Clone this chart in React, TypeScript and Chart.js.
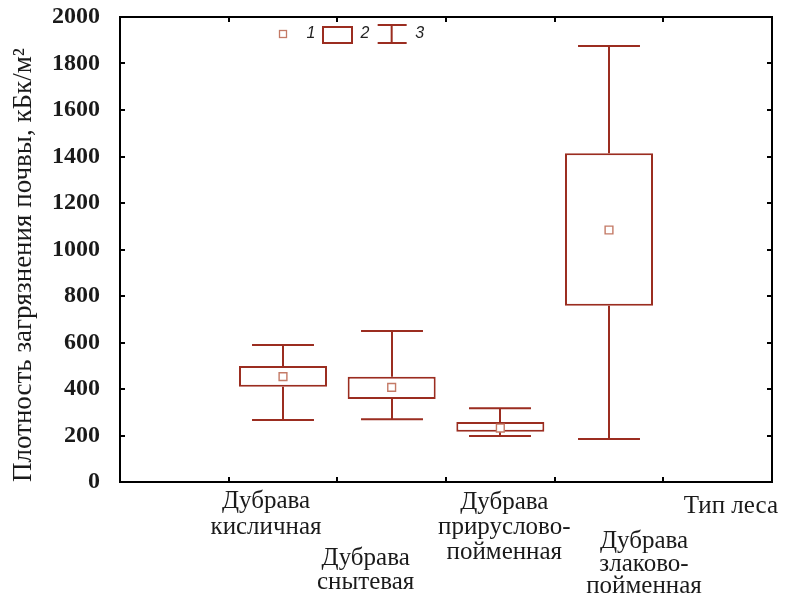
import React, { useEffect, useRef } from "react";
import { Chart, registerables } from "chart.js";

Chart.register(...registerables);

// ---------- data ----------
const categories: string[][] = [
  ["Дубрава", "кисличная"],
  ["Дубрава", "снытевая"],
  ["Дубрава", "прируслово-", "пойменная"],
  ["Дубрава", "злаково-", "пойменная"],
];
const categoryPositions = [2, 3, 4, 5];
const whiskerLow = [267, 270, 198, 185];
const boxLow = [410, 357, 216, 758];
const centerValue = [453, 407, 232, 1084];
const boxHigh = [499, 453, 258, 1414];
const whiskerHigh = [589, 650, 317, 1875];
const legendLabels = ["1", "2", "3"];
const xAxisTitle = "Тип леса";
const yAxisTitle = "Плотность загрязнения почвы, кБк/м²";
const yMin = 0;
const yMax = 2000;
const yStep = 200;
const xMin = 0.5;
const xMax = 6.5;

// ---------- styles ----------
const BOX_COLOR = "#9b2d20";
const MEAN_COLOR = "#c47a66";
const TEXT_COLOR = "#1a1a1a";
const SERIF = '"Liberation Serif", "Times New Roman", serif';
const SANS = '"Liberation Sans", Arial, sans-serif';

// per-category label placement (pixel offsets from the tick, baselines)
const labelLayout = [
  { dx: -17, baselines: [508, 534] },
  { dx: -26, baselines: [565, 589] },
  { dx: 4, baselines: [509, 534, 559] },
  { dx: 35, baselines: [548, 571, 593] },
];

const extrasPlugin = {
  id: "boxExtras",
  beforeDatasetsDraw(chart: any) {
    const { ctx } = chart;
    const xs = chart.scales.x;
    const ys = chart.scales.y;
    const unit = xs.getPixelForValue(1) - xs.getPixelForValue(0);
    const half = unit * 0.285;
    ctx.save();
    ctx.strokeStyle = BOX_COLOR;
    ctx.lineWidth = 2;
    categoryPositions.forEach((p, i) => {
      const x = Math.round(xs.getPixelForValue(p));
      const yLo = ys.getPixelForValue(whiskerLow[i]);
      const yQ1 = ys.getPixelForValue(boxLow[i]);
      const yQ3 = ys.getPixelForValue(boxHigh[i]);
      const yHi = ys.getPixelForValue(whiskerHigh[i]);
      ctx.beginPath();
      ctx.moveTo(x, yQ3);
      ctx.lineTo(x, yHi);
      ctx.moveTo(x, yQ1);
      ctx.lineTo(x, yLo);
      ctx.moveTo(x - half, yHi);
      ctx.lineTo(x + half, yHi);
      ctx.moveTo(x - half, yLo);
      ctx.lineTo(x + half, yLo);
      ctx.stroke();
    });
    ctx.restore();
  },
  afterDraw(chart: any) {
    const { ctx, chartArea } = chart;
    const { left, right, top, bottom } = chartArea;
    const xs = chart.scales.x;
    const ys = chart.scales.y;
    ctx.save();
    // frame
    ctx.strokeStyle = "#000";
    ctx.lineWidth = 2;
    ctx.strokeRect(left, top, right - left, bottom - top);
    // inward ticks
    const tl = 5;
    ctx.beginPath();
    ys.ticks.forEach((t: any) => {
      const y = Math.round(ys.getPixelForValue(t.value));
      ctx.moveTo(left, y);
      ctx.lineTo(left + tl, y);
      ctx.moveTo(right, y);
      ctx.lineTo(right - tl, y);
    });
    xs.ticks.forEach((t: any) => {
      const x = Math.round(xs.getPixelForValue(t.value));
      ctx.moveTo(x, bottom);
      ctx.lineTo(x, bottom - tl);
      ctx.moveTo(x, top);
      ctx.lineTo(x, top + tl);
    });
    ctx.stroke();

    // legend
    const lx = xs.getPixelForValue(categoryPositions[0]);
    const ly = top + 17;
    ctx.strokeStyle = MEAN_COLOR;
    ctx.lineWidth = 1.3;
    ctx.strokeRect(lx - 3.5, ly - 3.5, 7, 7);
    ctx.strokeStyle = BOX_COLOR;
    ctx.lineWidth = 2;
    ctx.strokeRect(lx + 40, ly - 7, 29, 16);
    const cx = xs.getPixelForValue(categoryPositions[1]);
    ctx.beginPath();
    ctx.moveTo(cx - 14, ly - 9);
    ctx.lineTo(cx + 15, ly - 9);
    ctx.moveTo(cx, ly - 9);
    ctx.lineTo(cx, ly + 9);
    ctx.moveTo(cx - 14, ly + 9);
    ctx.lineTo(cx + 15, ly + 9);
    ctx.stroke();
    ctx.fillStyle = "#222";
    ctx.font = `italic 16px ${SANS}`;
    ctx.textAlign = "center";
    ctx.textBaseline = "middle";
    ctx.fillText(legendLabels[0], lx + 28, ly);
    ctx.fillText(legendLabels[1], lx + 82, ly);
    ctx.fillText(legendLabels[2], cx + 28, ly);

    // category labels
    ctx.fillStyle = TEXT_COLOR;
    ctx.font = `25px ${SERIF}`;
    ctx.textBaseline = "alphabetic";
    categories.forEach((lines, i) => {
      const x = xs.getPixelForValue(categoryPositions[i]) + labelLayout[i].dx;
      lines.forEach((line, j) => {
        ctx.fillText(line, x, labelLayout[i].baselines[j]);
      });
    });
    // axis title
    ctx.textAlign = "right";
    ctx.fillText(xAxisTitle, 778, 513);
    ctx.restore();
  },
};

export default function App() {
  const ref = useRef<HTMLCanvasElement | null>(null);
  useEffect(() => {
    if (!ref.current) return;
    const chart = new Chart(ref.current, {
      type: "bar",
      data: {
        datasets: [
          {
            type: "scatter",
            data: categoryPositions.map((p, i) => ({ x: p, y: centerValue[i] })),
            pointStyle: "rect",
            pointRadius: 5.5,
            pointBorderWidth: 1.4,
            pointBorderColor: MEAN_COLOR,
            pointBackgroundColor: "#fff",
            order: 0,
          } as any,
          {
            type: "bar",
            data: categoryPositions.map((p, i) => ({ x: p, y: [boxLow[i], boxHigh[i]] })),
            backgroundColor: "#fff",
            borderColor: BOX_COLOR,
            borderWidth: 2,
            borderSkipped: false,
            categoryPercentage: 1,
            barPercentage: 0.81,
            order: 1,
          } as any,
        ],
      },
      options: {
        responsive: false,
        animation: false,
        layout: { padding: { top: 17, right: 13, bottom: 113, left: 0 } },
        plugins: { legend: { display: false }, tooltip: { enabled: false } },
        scales: {
          x: {
            type: "linear",
            min: xMin,
            max: xMax,
            offset: false,
            grid: { display: false, offset: false },
            border: { display: false },
            ticks: { display: false, stepSize: 1, includeBounds: false },
            afterFit(s: any) {
              s.height = 0;
            },
          },
          y: {
            type: "linear",
            min: yMin,
            max: yMax,
            grid: {
              display: true,
              drawOnChartArea: false,
              drawTicks: true,
              tickLength: 20,
              tickColor: "rgba(0,0,0,0)",
              color: "rgba(0,0,0,0)",
            },
            border: { display: false },
            ticks: {
              stepSize: yStep,
              padding: 0,
              color: TEXT_COLOR,
              font: { family: SERIF, size: 24, weight: "bold" },
              callback: (v: any) => String(v),
            },
            title: {
              display: true,
              text: yAxisTitle,
              align: "start",
              color: TEXT_COLOR,
              font: { family: SERIF, size: 27 },
              padding: { top: 8, bottom: 0 },
            },
            afterFit(s: any) {
              s.width = 120;
            },
          },
        },
      } as any,
      plugins: [extrasPlugin],
    });
    return () => chart.destroy();
  }, []);
  return (
    <div style={{ position: "fixed", left: 0, top: 0, width: 785, height: 595, background: "#fff" }}>
      <canvas ref={ref} width={785} height={595} />
    </div>
  );
}
